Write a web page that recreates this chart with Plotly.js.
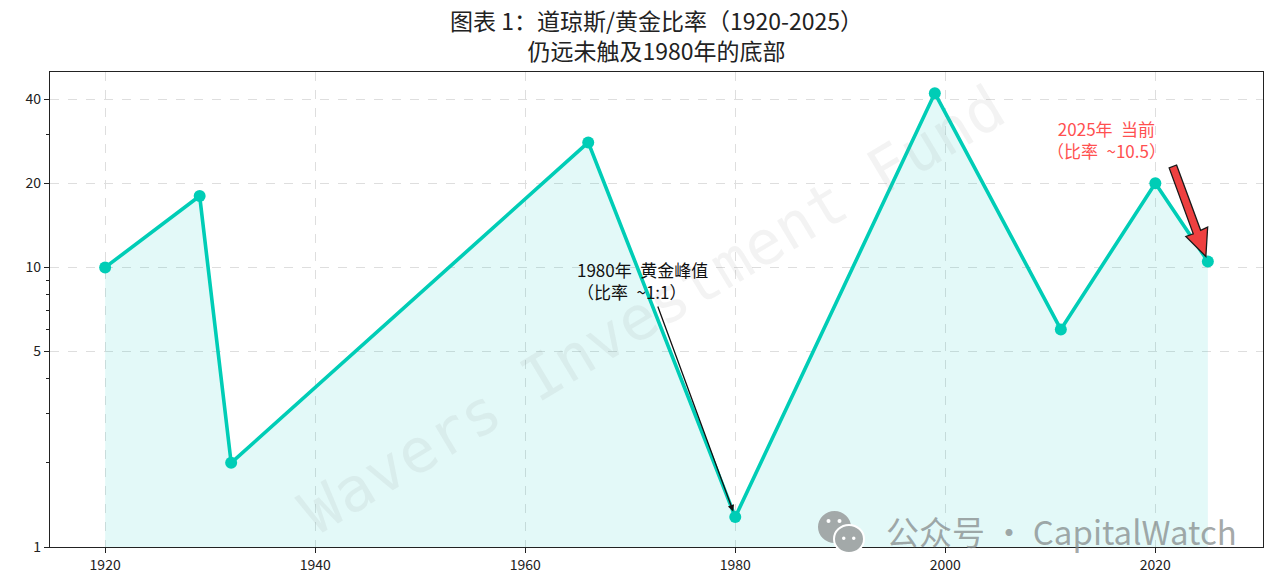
<!DOCTYPE html>
<html>
<head>
<meta charset="utf-8">
<script src="https://cdn.plot.ly/plotly-3.0.1.min.js"></script>
<style>
  html, body { margin: 0; padding: 0; background: #fff; }
  #chart { width: 1280px; height: 587px; }
</style>
</head>
<body>
<div id="chart"></div>
<script>
// ---- data ----
const years = [1920, 1929, 1932, 1966, 1980, 1999, 2011, 2020, 2025];
const ratio = [10, 18, 2, 28, 1.28, 42, 6, 20, 10.5];
const yTickVals = [1, 5, 10, 20, 40];
const yTickText = ['1', '5', '10', '20', '40'];
const yMinorVals = [2, 3, 4, 6, 7, 8, 9, 30];
const xTickVals = [1920, 1940, 1960, 1980, 2000, 2020];

const titleText = '图表 1：道琼斯/黄金比率（1920-2025）<br>仍远未触及1980年的底部';
const note1980 = '1980年\u2002黄金峰值<br>（比率\u2002~1:1）';
const note2025 = '2025年\u2002当前<br>（比率\u2002~10.5）';
const watermark = 'Wavers Investment Fund';
const wechatText = '公众号 · CapitalWatch';

const yBottom = 1, yTop = 50;
const lineColor = '#00CDB6';
const fillColor = 'rgba(0,200,190,0.11)';

// pixel helpers for layout-only decorations (plot area)
const L = 50, R = 1263, T = 72, B = 547;
const px = x => (x - L) / (R - L);
const py = y => (B - y) / (B - T);

const baseline = {
  x: years, y: years.map(() => yBottom),
  type: 'scatter', mode: 'lines', line: {width: 0, color: 'rgba(0,0,0,0)'},
  hoverinfo: 'skip', showlegend: false
};
const main = {
  x: years, y: ratio, type: 'scatter', mode: 'lines+markers',
  fill: 'tonexty', fillcolor: fillColor,
  line: {color: lineColor, width: 3.6},
  marker: {color: lineColor, size: 12},
  showlegend: false
};

const iA = years.indexOf(1980);
const iB = years.length - 1;

const titleFont = {family: '"Noto Sans CJK SC", sans-serif', size: 23, color: '#222'};
const noteFont = {family: '"Noto Sans CJK SC", sans-serif', size: 17, color: '#111'};

const layout = {
  width: 1280, height: 587,
  margin: {l: L, r: 1280 - R, t: T, b: 587 - B},
  paper_bgcolor: '#ffffff', plot_bgcolor: '#ffffff',
  font: {family: '"Noto Sans CJK SC", "DejaVu Sans", sans-serif', color: '#222', size: 14},
  xaxis: {
    range: [1914.75, 2030.25], tickmode: 'array', tickvals: xTickVals,
    ticks: 'outside', ticklen: 5, tickwidth: 1, tickcolor: '#222',
    showline: true, mirror: true, linecolor: '#222', linewidth: 1.2,
    showgrid: true, gridcolor: '#dedede', griddash: 'dash', gridwidth: 1,
    zeroline: false, tickfont: {size: 14, color: '#222'}
  },
  yaxis: {
    type: 'log', range: [Math.log10(yBottom), Math.log10(yTop)],
    tickmode: 'array', tickvals: yTickVals, ticktext: yTickText,
    ticks: 'outside', ticklen: 5, tickwidth: 1, tickcolor: '#222',
    minor: {tickmode: 'array', tickvals: yMinorVals, ticks: 'outside', ticklen: 3, tickcolor: '#222', showgrid: false},
    showline: true, mirror: true, linecolor: '#222', linewidth: 1.2,
    showgrid: true, gridcolor: '#dedede', griddash: 'dash', gridwidth: 1,
    zeroline: false, tickfont: {size: 14, color: '#222'}
  },
  shapes: [
    // fat red arrow for 2025 (pixel path anchored at last data point)
    {
      type: 'path', xref: 'x', yref: 'y', xsizemode: 'pixel', ysizemode: 'pixel',
      xanchor: years[iB], yanchor: ratio[iB],
      path: 'M -31.3,96.5 L -7.2,31.2 L -0.2,34.4 L -2,5 L -22,25 L -14.6,27.6 L -38.7,93.5 Z',
      fillcolor: '#EE4040', line: {color: '#1a1a1a', width: 1.3}, layer: 'above'
    },
    // wechat icon (decorative watermark)
    {type: 'circle', xref: 'paper', yref: 'paper', x0: px(818), x1: px(851), y0: py(543), y1: py(511),
     fillcolor: '#a3a9a9', line: {width: 0}, layer: 'above'},
    {type: 'circle', xref: 'paper', yref: 'paper', x0: px(834), x1: px(864), y0: py(553), y1: py(525),
     fillcolor: '#a3a9a9', line: {color: '#ffffff', width: 2}, layer: 'above'},
    {type: 'circle', xref: 'paper', yref: 'paper', x0: px(826.5), x1: px(830.5), y0: py(523), y1: py(519),
     fillcolor: '#ffffff', line: {width: 0}, layer: 'above'},
    {type: 'circle', xref: 'paper', yref: 'paper', x0: px(837.5), x1: px(841.5), y0: py(523), y1: py(519),
     fillcolor: '#ffffff', line: {width: 0}, layer: 'above'},
    {type: 'circle', xref: 'paper', yref: 'paper', x0: px(842), x1: px(845.5), y0: py(540), y1: py(536.5),
     fillcolor: '#ffffff', line: {width: 0}, layer: 'above'},
    {type: 'circle', xref: 'paper', yref: 'paper', x0: px(852), x1: px(855.5), y0: py(540), y1: py(536.5),
     fillcolor: '#ffffff', line: {width: 0}, layer: 'above'}
  ],
  annotations: [
    // title (two lines, one text block)
    {text: titleText, xref: 'paper', yref: 'paper', x: 0.5, y: py(35),
     xanchor: 'center', yanchor: 'middle', align: 'center', showarrow: false, borderpad: 0, font: titleFont},
    // watermark
    {text: watermark, xref: 'paper', yref: 'paper', x: px(652), y: py(309),
     xanchor: 'center', yanchor: 'middle', showarrow: false, textangle: -31,
     font: {family: '"DejaVu Sans Mono", monospace', size: 61, color: 'rgba(140,140,140,0.10)'}},
    // 1980 arrow
    {text: '', x: years[iA], y: Math.log10(ratio[iA]), xref: 'x', yref: 'y',
     showarrow: true, ax: -78, ay: -212, axref: 'pixel', ayref: 'pixel',
     arrowhead: 2, arrowsize: 1, arrowwidth: 1.3, arrowcolor: '#111', standoff: 6},
    {text: note1980, xref: 'paper', yref: 'paper', x: px(576), y: py(256),
     xanchor: 'left', yanchor: 'top', align: 'left', showarrow: false, borderpad: 0,
     font: noteFont},
    // 2025 note
    {text: note2025, xref: 'paper', yref: 'paper', x: px(1106), y: py(115),
     xanchor: 'center', yanchor: 'top', align: 'center', showarrow: false, borderpad: 0,
     font: Object.assign({}, noteFont, {color: '#FF5050'})},
    // wechat text
    {text: wechatText, xref: 'paper', yref: 'paper', x: px(1238), y: py(531),
     xanchor: 'right', yanchor: 'middle', showarrow: false, borderpad: 0,
     font: {family: '"Noto Sans CJK SC", sans-serif', size: 33, color: 'rgba(130,136,136,0.72)'}}
  ]
};

Plotly.newPlot('chart', [baseline, main], layout, {staticPlot: true, displayModeBar: false});
</script>
</body>
</html>
